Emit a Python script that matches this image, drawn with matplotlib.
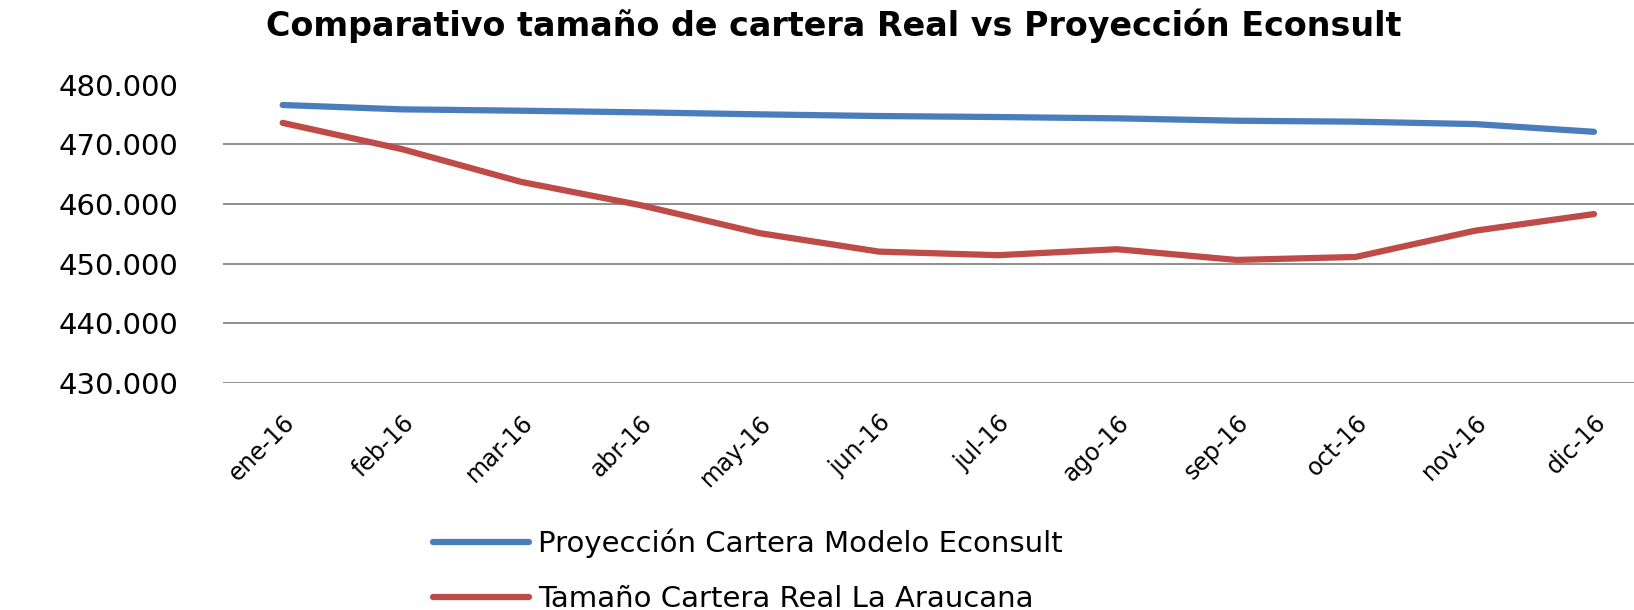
import matplotlib
matplotlib.use('Agg')
import matplotlib.pyplot as plt
from matplotlib.ticker import FuncFormatter

# Months and series values
months = ['ene-16', 'feb-16', 'mar-16', 'abr-16', 'may-16', 'jun-16',
          'jul-16', 'ago-16', 'sep-16', 'oct-16', 'nov-16', 'dic-16']
proyeccion = [476600, 475870, 475640, 475370, 475030, 474750,
              474580, 474360, 473960, 473800, 473400, 472100]
real = [473600, 469200, 463700, 459800, 455100, 452000,
        451400, 452400, 450600, 451100, 455500, 458300]
y_ticks = [430000, 440000, 450000, 460000, 470000, 480000]

label_proy = 'Proyección Cartera Modelo Econsult'
label_real = 'Tamaño Cartera Real La Araucana'

fig = plt.figure(figsize=(16.34, 6.10), dpi=100)
ax = fig.add_axes([0.1365, 0.3726, 0.8755, 0.4885])

x = list(range(len(months)))
ax.plot(x, proyeccion, color='#4A7EBB', linewidth=4.5, solid_capstyle='round', label=label_proy)
ax.plot(x, real, color='#BE4B48', linewidth=4.5, solid_capstyle='round', label=label_real)

ax.set_xlim(-0.5, len(months) - 0.5)
ax.set_ylim(430000, 480000)
ax.set_yticks(y_ticks)
ax.yaxis.set_major_formatter(FuncFormatter(lambda v, pos: f'{v:,.0f}'.replace(',', '.')))
ax.set_xticks(x)
ax.set_xticklabels(months, rotation=45, ha='right', va='top', rotation_mode='anchor', fontsize=17)

ax.tick_params(axis='y', length=0, pad=32, labelsize=21)
ax.tick_params(axis='x', length=0, pad=20)

# horizontal gridlines only, none on the top edge
ax.yaxis.grid(True, color='#868686', linewidth=1.3)
ax.set_axisbelow(True)
ax.get_ygridlines()[-1].set_visible(False)
for s in ax.spines.values():
    s.set_visible(False)

fig.text(0.51, 0.957, 'Comparativo tamaño de cartera Real vs Proyección Econsult',
         ha='center', va='center', fontsize=24, fontweight='bold')

fig.legend(loc='upper left', bbox_to_anchor=(433 / 1634, 1 - 529 / 610), frameon=False,
           fontsize=21, handlelength=3.3, handletextpad=0.3, labelspacing=0.9,
           borderpad=0, borderaxespad=0)

fig.savefig('out.png', dpi=100)
